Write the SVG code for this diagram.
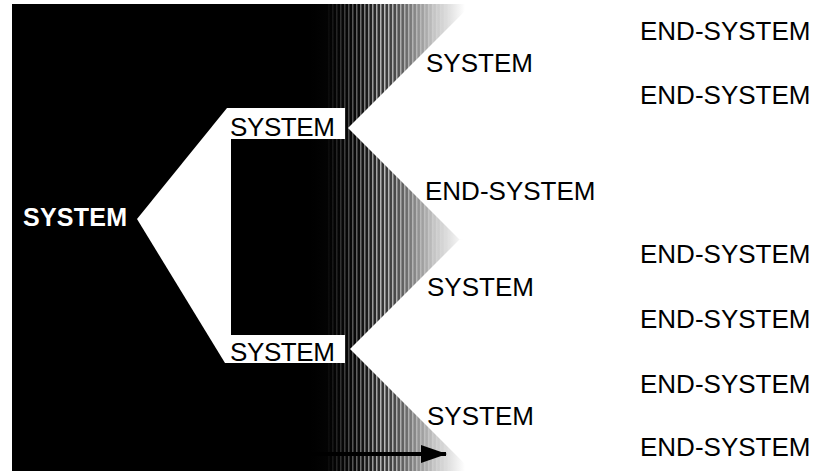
<svg xmlns="http://www.w3.org/2000/svg" width="827" height="471" viewBox="0 0 827 471">
  <defs>
    <style>
      .lbl { font-family: "Liberation Sans", Arial, Helvetica, sans-serif; font-size: 26px; fill: #000; }
      .root { font-family: "Liberation Sans", Arial, Helvetica, sans-serif; font-size: 25px; font-weight: bold; fill: #fff; }
      .cut { fill: #fff; }
    </style>
    <!-- dark field fading to paper white -->
    <linearGradient id="fade" gradientUnits="userSpaceOnUse" x1="310" y1="0" x2="465" y2="0">
      <stop offset="0" stop-color="#000"/>
      <stop offset="0.3" stop-color="#080808"/>
      <stop offset="0.55" stop-color="#4a4a4a"/>
      <stop offset="0.8" stop-color="#c4c4c4"/>
      <stop offset="1" stop-color="#fff"/>
    </linearGradient>
    <!-- vertical line screen over the fade -->
    <pattern id="screen" width="4" height="4" patternUnits="userSpaceOnUse">
      <rect width="1.5" height="4" fill="#fff"/>
    </pattern>
    <linearGradient id="screenFade" gradientUnits="userSpaceOnUse" x1="325" y1="0" x2="455" y2="0">
      <stop offset="0" stop-color="#000"/>
      <stop offset="0.45" stop-color="#aaa"/>
      <stop offset="1" stop-color="#000"/>
    </linearGradient>
    <mask id="screenMask">
      <rect x="300" y="0" width="170" height="471" fill="url(#screenFade)"/>
    </mask>
    <marker id="head" viewBox="0 0 26 18" refX="25" refY="9" markerWidth="26" markerHeight="18" markerUnits="userSpaceOnUse" orient="auto">
      <path d="M0,0 L26,9 L0,18 Z" fill="#000"/>
    </marker>
  </defs>

  <!-- background field -->
  <rect x="0" y="0" width="827" height="471" fill="#fff"/>
  <rect x="12" y="4" width="815" height="467" fill="url(#fade)"/>
  <rect x="300" y="4" width="170" height="467" fill="url(#screen)" mask="url(#screenMask)"/>

  <g id="connectors">
    <!-- root branch -->
    <polygon class="cut" points="137,219 227,108 231,108 231,363 225,363"/>
    <!-- branches of the upper system -->
    <polygon class="cut" points="348,128 476,0 827,0 827,239.5 459.5,239.5"/>
    <!-- branches of the lower system -->
    <polygon class="cut" points="350,349 459.5,239.5 827,239.5 827,471 472,471"/>
    <!-- flow arrow -->
    <line x1="300" y1="454" x2="446" y2="454" stroke="#000" stroke-width="4" marker-end="url(#head)"/>
  </g>

  <g id="node-root">
    <text class="root" x="23" y="226" textLength="104" lengthAdjust="spacing">SYSTEM</text>
  </g>

  <g id="node-system-upper">
    <rect class="cut" x="227" y="108" width="118" height="31"/>
    <text class="lbl" x="230" y="136" textLength="105" lengthAdjust="spacing">SYSTEM</text>
  </g>

  <g id="node-system-lower">
    <rect class="cut" x="227" y="335" width="118" height="28"/>
    <text class="lbl" x="230" y="361" textLength="105" lengthAdjust="spacing">SYSTEM</text>
  </g>

  <g id="node-system-a">
    <text class="lbl" x="426" y="72">SYSTEM</text>
  </g>
  <g id="node-end-b">
    <text class="lbl" x="425" y="200">END-SYSTEM</text>
  </g>
  <g id="node-system-c">
    <text class="lbl" x="427" y="296">SYSTEM</text>
  </g>
  <g id="node-system-d">
    <text class="lbl" x="427" y="425">SYSTEM</text>
  </g>

  <g id="node-end-1"><text class="lbl" x="640" y="40">END-SYSTEM</text></g>
  <g id="node-end-2"><text class="lbl" x="640" y="104">END-SYSTEM</text></g>
  <g id="node-end-3"><text class="lbl" x="640" y="263">END-SYSTEM</text></g>
  <g id="node-end-4"><text class="lbl" x="640" y="328">END-SYSTEM</text></g>
  <g id="node-end-5"><text class="lbl" x="640" y="393">END-SYSTEM</text></g>
  <g id="node-end-6"><text class="lbl" x="640" y="456">END-SYSTEM</text></g>
</svg>
